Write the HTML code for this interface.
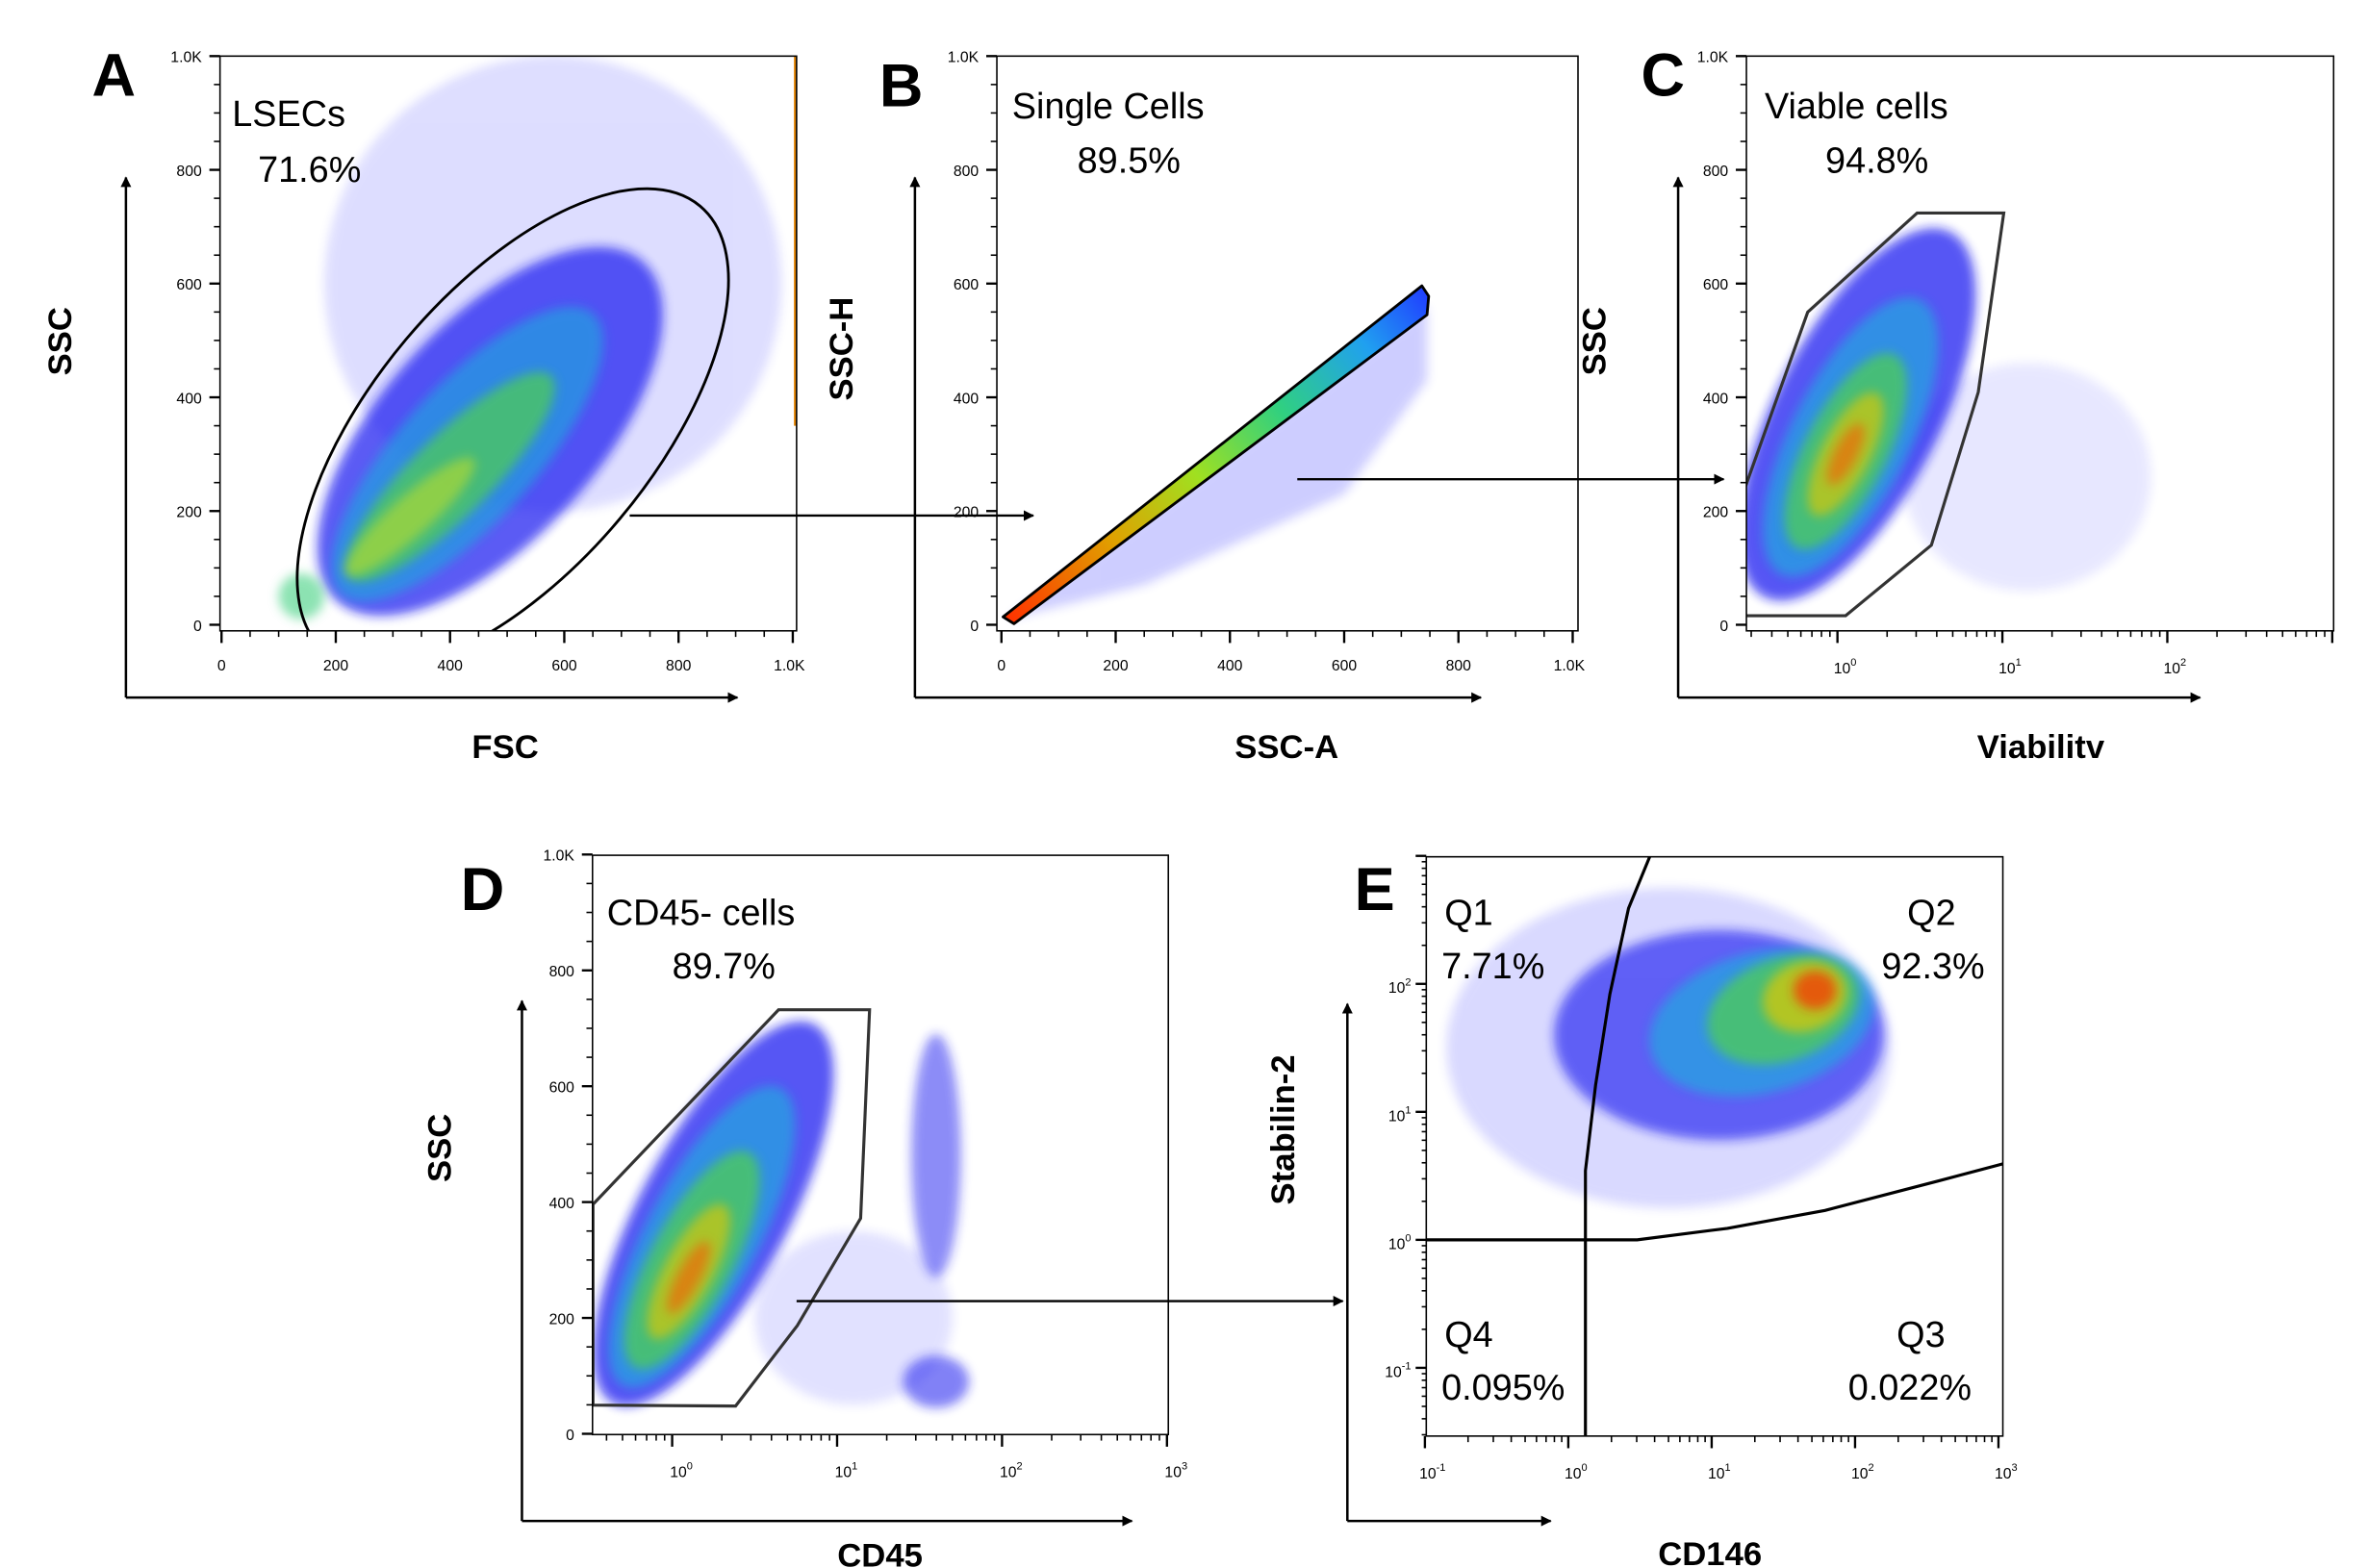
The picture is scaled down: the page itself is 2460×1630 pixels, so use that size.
<!DOCTYPE html>
<html><head><meta charset="utf-8"><style>
html,body{margin:0;padding:0;background:#fff}
svg{display:block}
text{font-family:"Liberation Sans",Arial,sans-serif}
</style></head><body>
<svg id="fig" width="2460" height="1630" viewBox="0 0 1560 1034" preserveAspectRatio="none" xmlns="http://www.w3.org/2000/svg">
<defs>
<filter id="blur" x="-30%" y="-30%" width="160%" height="160%"><feGaussianBlur stdDeviation="3.5"/></filter>
<linearGradient id="bandGrad" x1="663" y1="410" x2="940" y2="193" gradientUnits="userSpaceOnUse">
<stop offset="0" stop-color="#ff3000"/><stop offset="0.25" stop-color="#e0a000"/><stop offset="0.45" stop-color="#a0e020"/>
<stop offset="0.65" stop-color="#30d080"/><stop offset="0.85" stop-color="#20a0f0"/><stop offset="1" stop-color="#2040ff"/>
</linearGradient>
<marker id="arr" viewBox="0 0 10 10" refX="9" refY="5" markerWidth="7" markerHeight="7" orient="auto" markerUnits="userSpaceOnUse"><path d="M0,0 L10,5 L0,10 z" fill="#000"/></marker>
<clipPath id="clipA"><rect x="145" y="37" width="380" height="379"/></clipPath>
<clipPath id="clipB"><rect x="657" y="37" width="383" height="379"/></clipPath>
<clipPath id="clipC"><rect x="1151" y="37" width="387" height="379"/></clipPath>
<clipPath id="clipD"><rect x="390.5" y="564" width="379.5" height="382"/></clipPath>
<clipPath id="clipE"><rect x="940" y="565" width="380" height="382"/></clipPath>
</defs>
<g id="root"></g>
</svg>
<script>
// ---------- data ----------
const linTicks = [0, 200, 400, 600, 800, 1000];
const linTickLabels = ["0", "200", "400", "600", "800", "1.0K"];
const cDecades = [0, 1, 2];
const dDecades = [0, 1, 2, 3];
const eXDecades = [-1, 0, 1, 2, 3];
const eYDecades = [-1, 0, 1, 2];
// density clusters: [x, y, sdX, sdY, tilt(deg), colour, opacity]
const clustersA = [
  [580, 600, 400, 400, 0, "#2020ff", 0.15],
  [470, 340, 400, 190, -48, "#1414f0", 0.7],
  [430, 300, 330, 120, -48, "#20a0e0", 0.7],
  [400, 260, 250, 70, -45, "#50d050", 0.7],
  [330, 190, 150, 35, -42, "#c8e020", 0.55],
  [140, 50, 40, 40, 0, "#40d080", 0.6]
];
const sparseB = [[10, 10], [745, 560], [745, 430], [600, 230], [250, 70]];
const bandB = [[3, 14], [736, 596], [748, 578], [745, 545], [22, 2]];
const clustersC = [
  [1.15, 260, 0.75, 200, 0, "#2020ff", 0.1],
  [0.12, 370, 0.5, 360, 27, "#1414f0", 0.72],
  [0.08, 330, 0.36, 270, 27, "#20a8e0", 0.7],
  [0.05, 305, 0.25, 190, 27, "#50d050", 0.72],
  [0.05, 300, 0.15, 120, 27, "#e0c800", 0.65],
  [0.05, 300, 0.07, 60, 27, "#ff5000", 0.55]
];
const clustersD = [
  [1.1, 200, 0.6, 150, 0, "#2020ff", 0.13],
  [0.25, 380, 0.45, 370, 28, "#1414f0", 0.72],
  [0.18, 340, 0.34, 290, 28, "#20a8e0", 0.7],
  [0.12, 300, 0.25, 210, 28, "#50d050", 0.72],
  [0.1, 280, 0.15, 130, 28, "#e0c800", 0.65],
  [0.1, 270, 0.07, 70, 28, "#ff5000", 0.55],
  [1.6, 480, 0.15, 210, 0, "#1a1af0", 0.5],
  [1.6, 90, 0.2, 45, 0, "#1a1af0", 0.55]
];
const clustersE = [
  [0.7, 1.5, 1.55, 1.25, 0, "#2020ff", 0.17],
  [1.05, 1.6, 1.15, 0.82, 0, "#1414f0", 0.62],
  [1.35, 1.7, 0.8, 0.55, -15, "#20a8e0", 0.7],
  [1.5, 1.8, 0.55, 0.4, -20, "#50d050", 0.72],
  [1.65, 1.9, 0.3, 0.27, -20, "#e0c800", 0.7],
  [1.72, 1.95, 0.15, 0.15, 0, "#ff2000", 0.65]
];
// gates (data coords)
const gateC = [[-0.56,241],[-0.18,550],[0.483,724],[1.008,724],[0.854,409],[0.569,140],[0.05,16],[-0.56,16]];
const gateD = [[-0.48,396],[0.645,732],[1.197,732],[1.143,372],[0.759,187],[0.385,48],[-0.48,49.5]];
const quadV = [[0.12,-1.53],[0.12,0.54],[0.19,1.21],[0.29,1.92],[0.42,2.59],[0.57,3.0]];
const quadH = [[-1.0,0.0],[0.48,0.0],[1.11,0.09],[1.79,0.23],[2.58,0.46],[3.05,0.6]];

// ---------- helpers ----------
const NS = "http://www.w3.org/2000/svg";
const root = document.getElementById("root");
function mk(tag, attrs, parent) {
  const e = document.createElementNS(NS, tag);
  for (const k in attrs) e.setAttribute(k, attrs[k]);
  (parent || root).appendChild(e);
  return e;
}
function txt(x, y, s, size, weight, anchor, parent) {
  const t = mk("text", {x: x, y: y, "font-size": size, "font-weight": weight || "normal", "text-anchor": anchor || "start", fill: "#000"}, parent);
  t.textContent = s;
  return t;
}
const P = {
  A: {x0:145,x1:525,y0:37,y1:416, xs:v=>146+0.3765*v, ys:v=>412-0.375*v},
  B: {x0:657,x1:1040,y0:37,y1:416, xs:v=>660+0.3765*v, ys:v=>412-0.375*v},
  C: {x0:1151,x1:1538,y0:37,y1:416, xs:l=>1211+108.7*l, ys:v=>412-0.375*v},
  D: {x0:390.5,x1:770,y0:564,y1:946, xs:l=>443+108.7*l, ys:v=>945.5-0.382*v},
  E: {x0:940,x1:1320,y0:565,y1:947, xs:l=>1033.6+94.5*l, ys:l=>817.6-84.4*l}
};
function drawClusters(p, list, g) {
  list.forEach(c => {
    const cx = p.xs(c[0]), cy = p.ys(c[1]);
    const rx = Math.abs(p.xs(c[0] + c[2]) - cx), ry = Math.abs(p.ys(c[1] + c[3]) - cy);
    const e = mk("ellipse", {cx: cx, cy: cy, rx: rx, ry: ry, fill: c[5], opacity: c[6],
      transform: "rotate(" + c[4] + " " + cx + " " + cy + ")", filter: "url(#blur)"}, g);
    
    
  });
}
function box(p, name) {
  const r = mk("rect", {x: p.x0, y: p.y0, width: p.x1 - p.x0, height: p.y1 - p.y0, fill: "none", stroke: "#000", "stroke-width": 1});
  
  
}
function linYAxis(p, g) {
  for (let v = 0; v <= 1000; v += 50) {
    const y = p.ys(v), major = v % 200 === 0;
    mk("line", {x1: p.x0 - (major ? 7 : 4), x2: p.x0, y1: y, y2: y, stroke: "#000", "stroke-width": major ? 1.5 : 1}, g);
  }
  linTicks.forEach((v, i) => {
    const t = txt(p.x0 - 12, p.ys(v) + 4, linTickLabels[i], 10, "normal", "end", g);
    
    
  });
}
function linXAxis(p, g) {
  for (let v = 0; v <= 1000; v += 50) {
    const x = p.xs(v), major = v % 200 === 0;
    mk("line", {x1: x, x2: x, y1: p.y1, y2: p.y1 + (major ? 8 : 4), stroke: "#000", "stroke-width": major ? 1.5 : 1}, g);
  }
  linTicks.forEach((v, i) => {
    const t = txt(p.xs(v), p.y1 + 26, linTickLabels[i], 10, "normal", i === 5 ? "end" : "middle", g);
    if (i === 5) t.setAttribute("x", p.xs(v) + 8);
    
    
  });
}
function logTicksX(p, lo, hi, g) {
  for (let d = Math.floor(lo); d <= hi; d++) for (let k = 1; k <= 9; k++) {
    const l = d + Math.log10(k);
    if (l < lo - 1e-6 || l > hi + 1e-6) continue;
    const x = p.xs(l);
    mk("line", {x1: x, x2: x, y1: p.y1, y2: p.y1 + (k === 1 ? 8 : 4), stroke: "#000", "stroke-width": k === 1 ? 1.5 : 1}, g);
  }
}
function logTicksY(p, lo, hi, g) {
  for (let d = Math.floor(lo); d <= hi; d++) for (let k = 1; k <= 9; k++) {
    const l = d + Math.log10(k);
    if (l < lo - 1e-6 || l > hi + 1e-6) continue;
    const y = p.ys(l);
    mk("line", {x1: p.x0 - (k === 1 ? 7 : 3), x2: p.x0, y1: y, y2: y, stroke: "#000", "stroke-width": k === 1 ? 1.5 : 1}, g);
  }
}
function decLabel(x, y, d, anchor, g, name) {
  const t = mk("text", {x: x, y: y, "font-size": 10, "text-anchor": anchor, fill: "#000"}, g);
  
  
  const a = mk("tspan", {}, t); a.textContent = "10";
  const b = mk("tspan", {dy: -5, "font-size": 7}, t); b.textContent = String(d);
}
function arrowAxes(xv, ytop, ybot, xright, g) {
  const v = mk("line", {x1: xv, y1: ybot, x2: xv, y2: ytop, stroke: "#000", "stroke-width": 1.6, "marker-end": "url(#arr)"}, g);
  
  
  const h = mk("line", {x1: xv, y1: ybot, x2: xright, y2: ybot, stroke: "#000", "stroke-width": 1.6, "marker-end": "url(#arr)"}, g);
  
  
}
function axisTitleY(x, y, s, g) {
  const t = txt(x, y, s, 22, "bold", "middle", g);
  t.setAttribute("transform", "rotate(-90 " + x + " " + y + ")");
  
  
}
function axisTitleX(x, y, s, g) {
  const t = txt(x, y, s, 22, "bold", "middle", g);
  
  
}
function panelLetter(x, y, s, g) {
  const t = txt(x, y, s, 40, "bold", "middle", g);
  
  
}
function gateText(x, y, s, g, name) {
  const t = txt(x, y, s, 24, "normal", "start", g);
  
  
}
function connector(x1, y, x2) {
  const l = mk("line", {x1: x1, y1: y, x2: x2, y2: y, stroke: "#000", "stroke-width": 1.5, "marker-end": "url(#arr)"});
  
  
}
function polyPath(p, pts) {
  return pts.map((q, i) => (i ? "L" : "M") + p.xs(q[0]).toFixed(1) + "," + p.ys(q[1]).toFixed(1)).join(" ");
}

// ---------- Panel A ----------
(function () {
  const p = P.A;
  const g = mk("g", {});  
  const dg = mk("g", {"clip-path": "url(#clipA)"}, g);
  drawClusters(p, clustersA, dg);
  mk("line", {x1: p.x1 - 1, x2: p.x1 - 1, y1: p.y0, y2: p.ys(350), stroke: "#e08000", "stroke-width": 1.5}, dg);
  const el = mk("ellipse", {cx: 338, cy: 283, rx: 192, ry: 92, fill: "none", stroke: "#000", "stroke-width": 1.8, transform: "rotate(-50 338 283)"}, dg);
  
  
  box(p, 'plot-frame-a');
  linYAxis(p, g); linXAxis(p, g);
  arrowAxes(83, 117, 460, 486, g);
  axisTitleY(47, 225, "SSC", g);
  axisTitleX(333, 500, "FSC", g);
  panelLetter(75, 63, "A", g);
  gateText(153, 83, "LSECs", g, 'gate-name');
  gateText(170, 120, "71.6%", g, 'gate-percent');
})();

// ---------- Panel B ----------
(function () {
  const p = P.B;
  const g = mk("g", {});  
  const dg = mk("g", {"clip-path": "url(#clipB)"}, g);
  const sp = mk("path", {d: polyPath(p, sparseB) + " Z", fill: "#2020ff", opacity: 0.22, filter: "url(#blur)"}, dg);
  
  
  const bd = mk("path", {d: polyPath(p, bandB) + " Z", fill: "url(#bandGrad)", stroke: "#000", "stroke-width": 1.8, "stroke-linejoin": "round"}, dg);
  
  
  box(p, 'plot-frame-b');
  linYAxis(p, g); linXAxis(p, g);
  arrowAxes(603, 117, 460, 976, g);
  axisTitleY(562, 230, "SSC-H", g);
  axisTitleX(848, 500, "SSC-A", g);
  panelLetter(594, 70, "B", g);
  gateText(667, 78, "Single Cells", g, 'gate-name');
  gateText(710, 114, "89.5%", g, 'gate-percent');
})();

// ---------- Panel C ----------
(function () {
  const p = P.C;
  const g = mk("g", {});  
  const dg = mk("g", {"clip-path": "url(#clipC)"}, g);
  drawClusters(p, clustersC, dg);
  const gt = mk("path", {d: polyPath(p, gateC) + " Z", fill: "none", stroke: "#333", "stroke-width": 2}, dg);
  
  
  box(p, 'plot-frame-c');
  linYAxis(p, g);
  logTicksX(p, -0.55, 3.0, g);
  cDecades.forEach(d => decLabel(p.xs(d) + 5, p.y1 + 28, d, "middle", g, 'x-tick-label'));
  arrowAxes(1106, 117, 460, 1450, g);
  axisTitleY(1058, 225, "SSC", g);
  axisTitleX(1345, 500, "Viabilitv", g);
  panelLetter(1096, 63, "C", g);
  gateText(1163, 78, "Viable cells", g, 'gate-name');
  gateText(1203, 114, "94.8%", g, 'gate-percent');
})();

// ---------- Panel D ----------
(function () {
  const p = P.D;
  const g = mk("g", {});  
  const dg = mk("g", {"clip-path": "url(#clipD)"}, g);
  drawClusters(p, clustersD, dg);
  const gt = mk("path", {d: polyPath(p, gateD) + " Z", fill: "none", stroke: "#333", "stroke-width": 2}, dg);
  
  
  box(p, 'plot-frame-d');
  linYAxis(p, g);
  logTicksX(p, -0.48, 3.0, g);
  dDecades.forEach(d => decLabel(p.xs(d) + 6, p.y1 + 28, d, "middle", g, 'x-tick-label'));
  arrowAxes(344, 660, 1003, 746, g);
  axisTitleY(297, 757, "SSC", g);
  axisTitleX(580, 1033, "CD45", g);
  panelLetter(318, 600, "D", g);
  gateText(400, 610, "CD45- cells", g, 'gate-name');
  gateText(443, 645, "89.7%", g, 'gate-percent');
})();

// ---------- Panel E ----------
(function () {
  const p = P.E;
  const g = mk("g", {});  
  const dg = mk("g", {"clip-path": "url(#clipE)"}, g);
  drawClusters(p, clustersE, dg);
  const v = mk("path", {d: polyPath(p, quadV), fill: "none", stroke: "#000", "stroke-width": 2}, dg);
  
  
  const h = mk("path", {d: polyPath(p, quadH), fill: "none", stroke: "#000", "stroke-width": 2}, dg);
  
  
  box(p, 'plot-frame-e');
  logTicksX(p, -1.0, 3.0, g);
  logTicksY(p, -1.53, 3.0, g);
  eXDecades.forEach(d => decLabel(p.xs(d) + 5, p.y1 + 28, d, "middle", g, 'x-tick-label'));
  eYDecades.forEach(d => decLabel(p.x0 - 10, p.ys(d) + 6, d, "end", g, 'y-tick-label'));
  arrowAxes(888, 662, 1003, 1022, g);
  axisTitleY(853, 745, "Stabilin-2", g);
  axisTitleX(1127, 1032, "CD146", g);
  panelLetter(906, 600, "E", g);
  gateText(952, 610, "Q1", g, 'quadrant-label');
  gateText(950, 645, "7.71%", g, 'quadrant-percent');
  gateText(1257, 610, "Q2", g, 'quadrant-label');
  gateText(1240, 645, "92.3%", g, 'quadrant-percent');
  gateText(952, 888, "Q4", g, 'quadrant-label');
  gateText(950, 923, "0.095%", g, 'quadrant-percent');
  gateText(1250, 888, "Q3", g, 'quadrant-label');
  gateText(1218, 923, "0.022%", g, 'quadrant-percent');
})();

// ---------- connecting arrows ----------
connector(415, 340, 681);
connector(855, 316, 1136);
connector(525, 858, 885);
</script>
</body></html>
